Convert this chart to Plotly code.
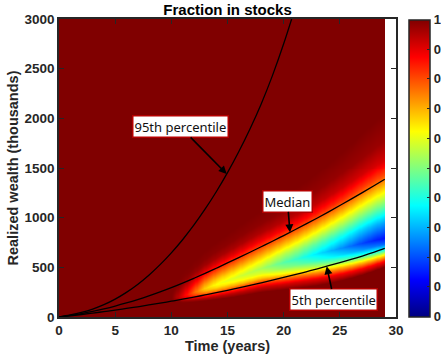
import numpy as np
import plotly.graph_objects as go

# ---- curve data (thousands) by year ----
years = list(range(0, 30))
p95_years = list(range(0, 22))
p95 = [0, 20, 46, 80, 124, 180, 248, 328, 421, 527, 646, 778, 924, 1085, 1261,
       1453, 1663, 1893, 2145, 2430, 2750, 3105]
p50 = [0, 16, 35, 57, 82, 110, 141, 175, 212, 252, 295, 341, 389, 439, 491,
       544, 598, 652, 707, 763, 820, 878, 937, 997, 1059, 1122, 1186, 1252, 1319, 1387]
p5 = [0, 12, 25, 39, 54, 70, 86, 103, 121, 140, 159, 179, 200, 222, 245,
      269, 293, 318, 344, 371, 398, 426, 455, 485, 516, 548, 580, 614, 650, 690]

# ---- fraction-in-stocks band ----
band_years = list(range(10, 30))
band_min = [1.0, 0.9, 0.78, 0.67, 0.62, 0.6, 0.58, 0.56, 0.54, 0.5, 0.46, 0.43,
            0.39, 0.35, 0.31, 0.27, 0.23, 0.19, 0.16, 0.14]
band_mid = [200, 220, 255, 295, 335, 375, 415, 455, 495, 525, 555, 585, 614,
            642, 668, 694, 720, 747, 773, 797]
band_low = [170, 150, 160, 172, 186, 200, 218, 238, 258, 270, 282, 296, 310,
            325, 345, 370, 398, 430, 468, 510]
band_high = [260, 370, 450, 530, 600, 665, 730, 795, 855, 910, 965, 1025, 1085,
             1150, 1220, 1290, 1365, 1440, 1515, 1590]
# profile shape (normalised distance from band centre -> normalised rise to 1)
up_u = [0, 0.2, 0.4, 0.6, 0.8, 1.0, 1.25, 1.6]
up_s = [0, 0.17, 0.38, 0.58, 0.77, 0.9, 0.97, 1.0]
lo_u = [0, 0.2, 0.4, 0.6, 0.8, 1.0]
lo_s = [0, 0.1, 0.3, 0.6, 0.85, 1.0]

t_cells = np.arange(0.05, 29.0, 0.1)
w_cells = np.arange(5, 3000, 10)
Z = np.ones((len(w_cells), len(t_cells)))
for j, t in enumerate(t_cells):
    m = np.interp(t, band_years, band_min)
    c = np.interp(t, band_years, band_mid)
    lo = np.interp(t, band_years, band_low)
    hi = np.interp(t, band_years, band_high)
    col = np.ones(len(w_cells))
    above = w_cells >= c
    ua = (w_cells[above] - c) / (hi - c)
    col[above] = m + (1 - m) * np.interp(ua, up_u, up_s)
    ub = (c - w_cells[~above]) / (c - lo)
    col[~above] = m + (1 - m) * np.interp(ub, lo_u, lo_s)
    Z[:, j] = col

jet = [[0.0, "rgb(0,0,128)"], [0.125, "rgb(0,0,255)"], [0.375, "rgb(0,255,255)"],
       [0.625, "rgb(255,255,0)"], [0.875, "rgb(255,0,0)"], [1.0, "rgb(128,0,0)"]]

cb_vals = [i / 10 for i in range(11)]
cb_text = ["0"] * 10 + ["1"]

dark = "#262626"
tfont = dict(family="Liberation Sans, Arial, sans-serif", size=13.5, color=dark, weight="bold")
cbfont = dict(family="Liberation Sans, Arial, sans-serif", size=13, color=dark, weight="bold")

fig = go.Figure()
fig.add_trace(go.Heatmap(
    x=t_cells, y=w_cells, z=Z, zmin=0, zmax=1, colorscale=jet, zsmooth="best",
    colorbar=dict(x=1.0386, xanchor="left", xpad=0, y=0.5, yanchor="middle", ypad=0,
                  len=0.995, thickness=21, outlinewidth=1.5, outlinecolor=dark,
                  tickvals=cb_vals, ticktext=cb_text, ticks="inside", ticklen=3,
                  tickcolor=dark, tickfont=cbfont),
    hoverinfo="skip"))

for ys, xs in ((p95, p95_years), (p50, years), (p5, years)):
    fig.add_trace(go.Scatter(x=xs, y=ys, mode="lines", line=dict(color="black", width=1.3, shape="spline"),
                             showlegend=False, hoverinfo="skip"))

afont = dict(family="Noto Sans, sans-serif", size=13, color="#111111")
ann = dict(showarrow=True, arrowhead=2, arrowsize=1, arrowwidth=1.6, arrowcolor="black",
           bgcolor="white", bordercolor="#b40000", borderwidth=1.5, borderpad=1, font=afont,
           xref="x", yref="y")
fig.add_annotation(text="95th percentile", x=14.93, y=1440, ax=-46.7, ay=-47.3, **ann)
fig.add_annotation(text="Median", x=20.56, y=852, ax=-2.5, ay=-31.3, **ann)
fig.add_annotation(text="5th percentile", x=23.83, y=511, ax=7.3, ay=33.5, **ann)

axcommon = dict(showline=True, linecolor=dark, linewidth=1.5, mirror="ticks", ticks="inside",
                ticklen=5, tickcolor=dark, tickfont=tfont, showgrid=False, zeroline=False)
fig.update_layout(
    width=441, height=364,
    margin=dict(l=59, r=45, t=19, b=47, autoexpand=False),
    paper_bgcolor="white", plot_bgcolor="white",
    showlegend=False,
    title=dict(text="Fraction in stocks", x=0.516, xanchor="center", y=0.972, yanchor="middle",
               font=dict(family="Liberation Sans, Arial, sans-serif", size=15, color="black", weight="bold")),
    xaxis=dict(range=[0, 30], tickvals=[0, 5, 10, 15, 20, 25, 30],
               title=dict(text="Time (years)", standoff=4,
                          font=dict(family="Liberation Sans, Arial, sans-serif", size=14.5, color=dark, weight="bold")),
               **axcommon),
    yaxis=dict(range=[0, 3000], tickvals=[0, 500, 1000, 1500, 2000, 2500, 3000],
               title=dict(text="Realized wealth (thousands)", standoff=2,
                          font=dict(family="Liberation Sans, Arial, sans-serif", size=14.5, color=dark, weight="bold")),
               **axcommon),
)
fig.write_html("out.html")
